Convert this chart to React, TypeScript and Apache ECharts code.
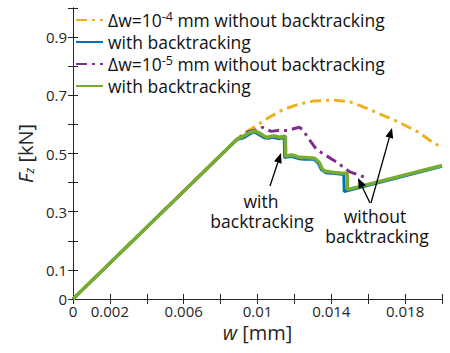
import React, { useEffect, useRef } from 'react';
import * as echarts from 'echarts';

// ---- data (w [mm], Fz [kN]) ----
const yellowDw4NoBt: number[][] = [
  [0, 0], [0.0089, 0.55], [0.0094, 0.574], [0.01, 0.598], [0.01054, 0.621], [0.01135, 0.65],
  [0.01227, 0.67], [0.013, 0.68], [0.01405, 0.684], [0.015, 0.678], [0.0162, 0.648],
  [0.01768, 0.607], [0.01876, 0.572], [0.01946, 0.54], [0.02, 0.52],
];
const blueDw4Bt: number[][] = [
  [0, 0], [0.0089, 0.548], [0.0092, 0.553], [0.00957, 0.566], [0.0098, 0.574], [0.01, 0.568],
  [0.0102, 0.56], [0.0104, 0.553], [0.0106, 0.552], [0.0108, 0.556], [0.011, 0.553], [0.0112, 0.551],
  [0.0114, 0.555], [0.01145, 0.553], [0.01147, 0.486], [0.0118, 0.49], [0.012, 0.487], [0.01227, 0.482],
  [0.01254, 0.48], [0.0128, 0.481], [0.0131, 0.479], [0.0133, 0.466], [0.01345, 0.445], [0.0137, 0.434],
  [0.014, 0.432], [0.0143, 0.43], [0.01468, 0.428], [0.0147, 0.369], [0.02, 0.456],
];
const purpleDw5NoBt: number[][] = [
  [0, 0], [0.0089, 0.55], [0.0095, 0.575], [0.01, 0.583], [0.01027, 0.59], [0.0105, 0.582],
  [0.01076, 0.576], [0.0112, 0.58], [0.01162, 0.579], [0.012, 0.586], [0.01227, 0.59], [0.01243, 0.583],
  [0.01281, 0.548], [0.01319, 0.514], [0.01432, 0.469], [0.01497, 0.438], [0.01589, 0.417],
];
const greenDw5Bt: number[][] = [
  [0, 0], [0.0089, 0.55], [0.0092, 0.558], [0.00957, 0.572], [0.00984, 0.578], [0.01, 0.574],
  [0.01022, 0.566], [0.0104, 0.558], [0.01054, 0.555], [0.0107, 0.559], [0.01092, 0.56], [0.0112, 0.556],
  [0.01146, 0.559], [0.01151, 0.559], [0.01153, 0.49], [0.0118, 0.495], [0.012, 0.493], [0.01227, 0.487],
  [0.01254, 0.486], [0.0128, 0.485], [0.01308, 0.484], [0.0132, 0.478], [0.01335, 0.469], [0.0135, 0.448],
  [0.01362, 0.44], [0.0139, 0.437], [0.01416, 0.435], [0.0145, 0.433], [0.01486, 0.432], [0.01488, 0.376],
  [0.02, 0.459],
];

const seriesNames = ['dw4 without', 'dw4 with', 'dw5 without', 'dw5 with'];
const legendLabels = [
  'Δw=10{sup|-4} mm without backtracking',
  'with backtracking',
  'Δw=10{sup|-5} mm without backtracking',
  'with backtracking',
];
const xLabelTicks = [0, 2, 6, 10, 14, 18]; // in 1e-3 mm
const yLabelTicks = [0, 1, 3, 5, 7, 9]; // in 0.1 kN

const FONT = 'Open Sans';
const INK = '#262626';

function arrow(x1: number, y1: number, x2: number, y2: number) {
  const dx = x2 - x1, dy = y2 - y1;
  const len = Math.sqrt(dx * dx + dy * dy);
  const ux = dx / len, uy = dy / len;
  const hl = 10, hw = 4;
  const bx = x2 - ux * hl, by = y2 - uy * hl;
  return [
    { type: 'line', shape: { x1, y1, x2: bx, y2: by }, style: { stroke: '#000', lineWidth: 1.3 }, z: 100 },
    {
      type: 'polygon',
      shape: { points: [[x2, y2], [bx - uy * hw, by + ux * hw], [bx + uy * hw, by - ux * hw]] },
      style: { fill: '#000' },
      z: 100,
    },
  ];
}

function label(text: string, x: number, y: number) {
  return {
    type: 'text',
    x,
    y,
    style: {
      text,
      fontFamily: FONT,
      fontSize: 17.5,
      fill: '#111',
      align: 'center',
      verticalAlign: 'middle',
    },
    z: 100,
  };
}

export default function App() {
  const ref = useRef<HTMLDivElement>(null);
  useEffect(() => {
    if (!ref.current) return;
    const chart = echarts.init(ref.current, null, { renderer: 'svg' });
    const axisCommon = {
      axisLine: { show: true, lineStyle: { color: INK, width: 1 } },
      axisTick: { show: true, inside: true, length: 5, lineStyle: { color: INK } },
      splitLine: { show: false },
    };
    const lineSeries = (name: string, data: number[][], color: string, width: number, type: any) => ({
      name,
      type: 'line',
      data,
      xAxisIndex: 0,
      yAxisIndex: 0,
      symbol: 'none',
      showSymbol: false,
      lineStyle: { color, width, type },
      itemStyle: { color },
    });
    chart.setOption({
      animation: false,
      backgroundColor: '#fff',
      grid: { left: 73, right: 8, top: 8, bottom: 54, containLabel: false },
      legend: {
        orient: 'vertical',
        left: 75,
        top: 10,
        padding: 0,
        itemGap: 2,
        itemWidth: 27,
        itemHeight: 14,
        itemStyle: { opacity: 0 },
        data: seriesNames,
        formatter: (name: string) => legendLabels[seriesNames.indexOf(name)],
        textStyle: {
          fontFamily: FONT,
          fontSize: 17.5,
          color: '#111',
          lineHeight: 20,
          rich: {
            sup: { fontFamily: FONT, fontSize: 12.5, lineHeight: 12, verticalAlign: 'top', color: '#111' },
          },
        },
      },
      xAxis: [
        {
          type: 'value',
          min: 0,
          max: 0.02,
          interval: 0.002,
          position: 'bottom',
          ...axisCommon,
          axisLabel: {
            show: true,
            margin: 4,
            fontFamily: FONT,
            fontSize: 15,
            color: INK,
            formatter: (v: number) => {
              const k = Math.round(v * 1000);
              return xLabelTicks.includes(k) ? String(parseFloat(v.toFixed(3))) : '';
            },
          },
          name: '{i|w} [mm]',
          nameLocation: 'middle',
          nameGap: 22,
          nameTextStyle: {
            fontFamily: FONT,
            fontSize: 20,
            color: INK,
            rich: { i: { fontFamily: FONT, fontSize: 20, fontStyle: 'italic', color: INK } },
          },
        },
        {
          type: 'value',
          min: 0,
          max: 0.02,
          interval: 0.002,
          position: 'top',
          ...axisCommon,
          axisLabel: { show: false },
        },
      ],
      yAxis: [
        {
          type: 'value',
          min: 0,
          max: 1,
          interval: 0.1,
          position: 'left',
          ...axisCommon,
          axisLabel: {
            show: true,
            margin: 6,
            fontFamily: FONT,
            fontSize: 15,
            color: INK,
            formatter: (v: number) => {
              const k = Math.round(v * 10);
              return yLabelTicks.includes(k) ? String(parseFloat(v.toFixed(1))) : '';
            },
          },
          name: '{i|F}{sub|z} [kN]',
          nameLocation: 'middle',
          nameGap: 30,
          nameTextStyle: {
            fontFamily: FONT,
            fontSize: 20,
            color: INK,
            rich: {
              i: { fontFamily: FONT, fontSize: 20, fontStyle: 'italic', color: INK },
              sub: { fontFamily: FONT, fontSize: 13, fontStyle: 'italic', color: INK, verticalAlign: 'bottom', lineHeight: 14 },
            },
          },
        },
        {
          type: 'value',
          min: 0,
          max: 1,
          interval: 0.1,
          position: 'right',
          ...axisCommon,
          axisLabel: { show: false },
        },
      ],
      series: [
        lineSeries(seriesNames[0], yellowDw4NoBt, '#EDB120', 3, [11, 5, 3, 5]),
        lineSeries(seriesNames[1], blueDw4Bt, '#0072BD', 3, 'solid'),
        lineSeries(seriesNames[2], purpleDw5NoBt, '#7E2F8E', 3, [11, 5, 3, 5]),
        lineSeries(seriesNames[3], greenDw5Bt, '#77AC30', 3.5, 'solid'),
      ],
      graphic: [
        label('with', 261, 201),
        label('backtracking', 262, 221),
        label('without', 375, 216),
        label('backtracking', 377, 236),
        ...arrow(270, 186, 281, 153),
        ...arrow(370, 203, 358, 178),
        ...arrow(371, 203, 392, 128),
      ],
    });
    return () => chart.dispose();
  }, []);
  return <div ref={ref} style={{ position: 'fixed', left: 0, top: 0, width: 450, height: 353 }} />;
}
